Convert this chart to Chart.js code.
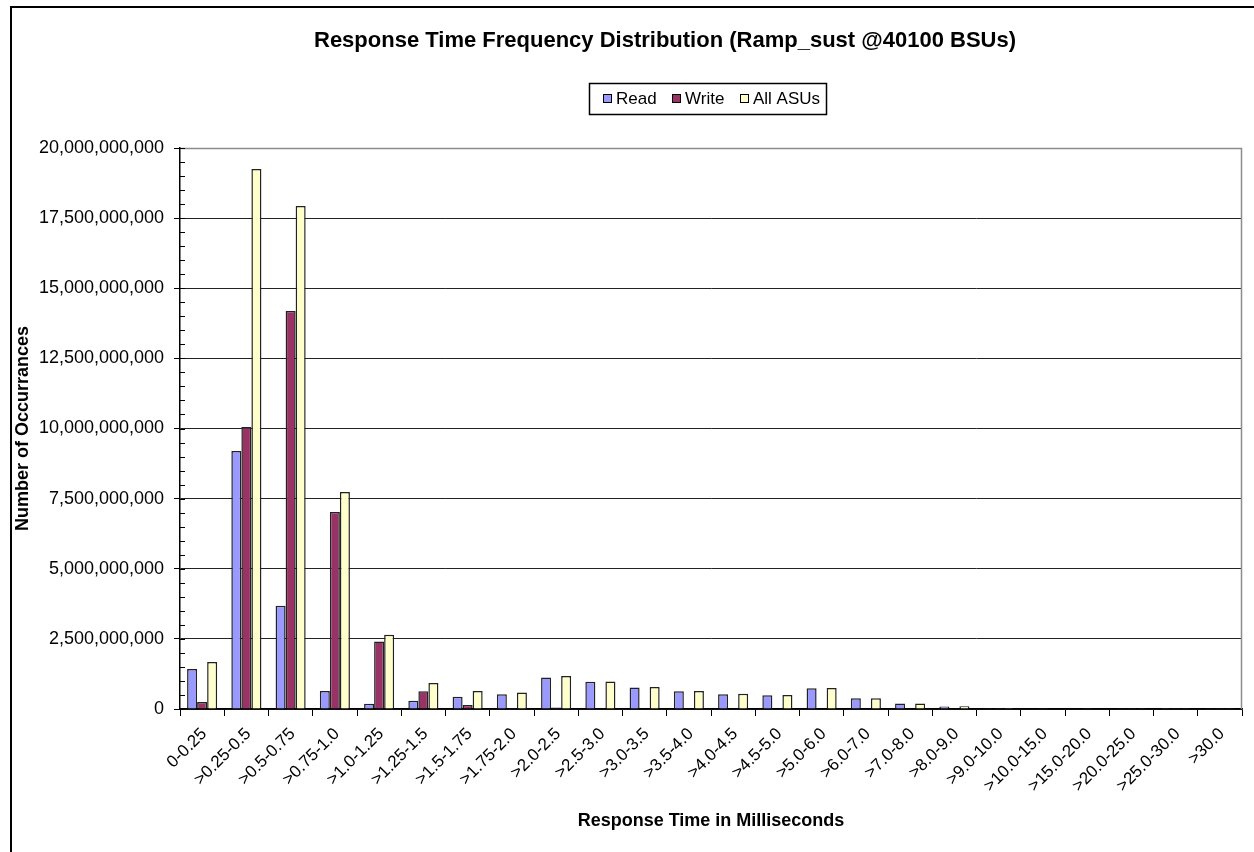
<!DOCTYPE html>
<html>
<head>
<meta charset="utf-8">
<title>Response Time Frequency Distribution</title>
<script src="https://cdn.jsdelivr.net/npm/chart.js@4.4.1/dist/chart.umd.min.js"></script>
<style>
  body { margin: 0; background: #fff; }
  #wrap { width: 1254px; height: 852px; position: relative; }
</style>
</head>
<body>
<div id="wrap"><canvas id="chart" width="1254" height="852"></canvas></div>
<script>
const categories = ["0-0.25", ">0.25-0.5", ">0.5-0.75", ">0.75-1.0", ">1.0-1.25", ">1.25-1.5", ">1.5-1.75", ">1.75-2.0",
  ">2.0-2.5", ">2.5-3.0", ">3.0-3.5", ">3.5-4.0", ">4.0-4.5", ">4.5-5.0", ">5.0-6.0", ">6.0-7.0",
  ">7.0-8.0", ">8.0-9.0", ">9.0-10.0", ">10.0-15.0", ">15.0-20.0", ">20.0-25.0", ">25.0-30.0", ">30.0"];

// values in billions of occurrences
const readValues = [1.43, 9.2, 3.68, 0.64, 0.19, 0.29, 0.44, 0.53, 1.12, 0.97, 0.77, 0.63,
  0.53, 0.49, 0.74, 0.38, 0.2, 0.09, 0.03, 0.02, 0.012, 0.006, 0.004, 0.006];
const writeValues = [0.25, 10.05, 14.19, 7.02, 2.41, 0.63, 0.14, 0.04, 0.05, 0.03, 0.02, 0.02,
  0.02, 0.02, 0.02, 0.01, 0.01, 0.005, 0.003, 0.002, 0.001, 0.001, 0.001, 0.001];
const allValues = [1.68, 19.25, 17.93, 7.74, 2.65, 0.93, 0.64, 0.59, 1.18, 0.98, 0.78, 0.64,
  0.54, 0.5, 0.75, 0.38, 0.2, 0.1, 0.035, 0.022, 0.013, 0.007, 0.005, 0.007];

const seriesNames = ["Read", "Write", "All ASUs"];
const seriesColors = ["#9999FF", "#993366", "#FFFFCC"];

const FONT = "'Liberation Sans', Arial, sans-serif";
const toBil = arr => arr.map(v => v * 1e9);

// outer frame, plot border, minor ticks, title and legend box
const excelLook = {
  id: "excelLook",
  beforeDraw(chart) {
    const ctx = chart.ctx;
    ctx.save();
    ctx.fillStyle = "#fff";
    ctx.fillRect(0, 0, chart.width, chart.height);
    ctx.strokeStyle = "#000";
    ctx.lineWidth = 2;
    ctx.beginPath();
    ctx.moveTo(11, chart.height);
    ctx.lineTo(11, 7);
    ctx.lineTo(chart.width, 7);
    ctx.stroke();
    ctx.restore();
  },
  afterDraw(chart) {
    const ctx = chart.ctx;
    const a = chart.chartArea;
    const y = chart.scales.y;
    ctx.save();
    // plot area border (top & right)
    ctx.strokeStyle = "#8c8c8c";
    ctx.lineWidth = 1.5;
    ctx.beginPath();
    ctx.moveTo(a.left, a.top + 0.5);
    ctx.lineTo(a.right - 0.5, a.top + 0.5);
    ctx.lineTo(a.right - 0.5, a.bottom);
    ctx.stroke();
    // minor ticks
    ctx.strokeStyle = "#000";
    ctx.lineWidth = 1;
    ctx.beginPath();
    for (let v = 0; v <= 20e9; v += 0.5e9) {
      const py = Math.round(y.getPixelForValue(v)) + 0.5;
      ctx.moveTo(a.left, py);
      ctx.lineTo(a.left + 5, py);
    }
    ctx.stroke();
    // title
    ctx.fillStyle = "#000";
    ctx.font = "bold 22px " + FONT;
    ctx.textAlign = "center";
    ctx.textBaseline = "middle";
    ctx.fillText("Response Time Frequency Distribution (Ramp_sust @40100 BSUs)", 665, 41);
    // legend
    ctx.strokeStyle = "#000";
    ctx.lineWidth = 1.5;
    ctx.strokeRect(589.5, 83.5, 237, 31);
    ctx.font = "17px " + FONT;
    ctx.textAlign = "left";
    const xs = [603, 672, 740];
    seriesNames.forEach((name, i) => {
      ctx.fillStyle = seriesColors[i];
      ctx.fillRect(xs[i], 94, 8, 8);
      ctx.strokeStyle = "#000";
      ctx.lineWidth = 1;
      ctx.strokeRect(xs[i] + 0.5, 94.5, 8, 8);
      ctx.fillStyle = "#000";
      ctx.fillText(name, xs[i] + 13, 99);
    });
    ctx.restore();
  }
};

new Chart(document.getElementById("chart"), {
  type: "bar",
  data: {
    labels: categories,
    datasets: [
      { label: seriesNames[0], data: toBil(readValues), backgroundColor: seriesColors[0] },
      { label: seriesNames[1], data: toBil(writeValues), backgroundColor: seriesColors[1] },
      { label: seriesNames[2], data: toBil(allValues), backgroundColor: seriesColors[2] }
    ]
  },
  options: {
    responsive: false,
    animation: false,
    layout: { padding: { left: 12, right: 12, top: 148, bottom: 0 } },
    datasets: {
      bar: { categoryPercentage: 0.68, barPercentage: 1.0, borderColor: "#222", borderWidth: 1.5 }
    },
    plugins: {
      legend: { display: false },
      title: { display: false },
      tooltip: { enabled: false }
    },
    scales: {
      x: {
        offset: true,
        grid: { offset: true, drawOnChartArea: false, color: "#000", tickLength: 7, tickColor: "#000" },
        border: { color: "#000", width: 1.5 },
        ticks: { color: "#000", font: { family: FONT, size: 17 }, maxRotation: 45, minRotation: 45,
          autoSkip: false, padding: 8, labelOffset: 2 },
        title: { display: true, text: "Response Time in Milliseconds", color: "#000",
          font: { family: FONT, size: 18, weight: "bold" }, padding: { top: 0, bottom: 20 } },
        afterFit(scale) { scale.height = 852 - 709; }
      },
      y: {
        min: 0,
        max: 20e9,
        grid: { color: "#222", lineWidth: 1, tickLength: 6, tickColor: "#000" },
        border: { color: "#000", width: 1.5 },
        ticks: {
          stepSize: 2.5e9,
          color: "#000",
          padding: 10,
          font: { family: FONT, size: 18 },
          callback: v => Number(v).toLocaleString("en-US")
        },
        title: { display: true, text: "Number of Occurrances", color: "#000",
          font: { family: FONT, size: 18, weight: "bold" }, padding: { top: 0, bottom: 4 } },
        afterFit(scale) { scale.width = 168; }
      }
    }
  },
  plugins: [excelLook]
});
</script>
</body>
</html>
